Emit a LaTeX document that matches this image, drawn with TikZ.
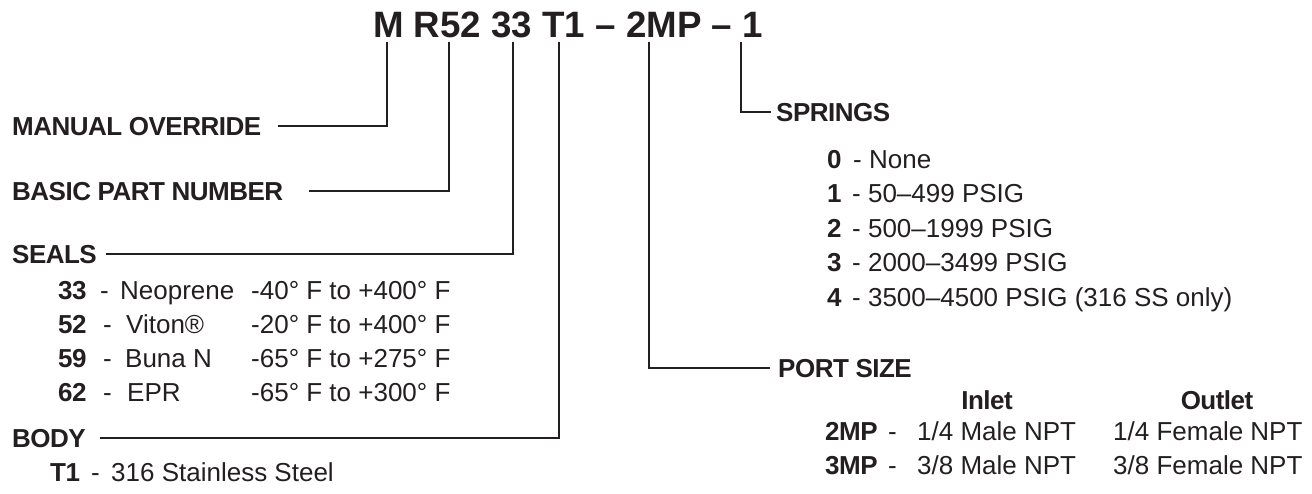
\documentclass[tikz,border=0pt]{standalone}
\usepackage{fontspec}
\setmainfont{Liberation Sans}
\newfontfamily\lblfont[LetterSpace=-2]{Liberation Sans}
\definecolor{ink}{HTML}{231F20}
\tikzset{
  lbl/.style={anchor=base west, inner sep=0pt, font=\lblfont\fontsize{26}{30}\selectfont\bfseries, text=ink},
  txt/.style={anchor=base west, inner sep=0pt, font=\fontsize{26}{30}\selectfont, text=ink},
  hdr/.style={anchor=base, inner sep=0pt, font=\lblfont\fontsize{26}{30}\selectfont\bfseries, text=ink},
  ttlstyle/.style={anchor=base west, inner sep=0pt, font=\fontsize{36.7}{40}\selectfont\bfseries, text=ink},
  lead/.style={draw=ink, line width=2pt},
}
\begin{document}
\begin{tikzpicture}[x=1pt,y=-1pt]
\useasboundingbox (0,0) rectangle (1312,493);
% title
\node[ttlstyle] (ttl) at (373,37) {M R52 33 T1 – 2MP – 1};
\coordinate (cM) at (387,42);
\coordinate (cR) at (449,42);
\coordinate (cS) at (513,42);
\coordinate (cT) at (559,42);
\coordinate (cP) at (649,42);
\coordinate (cN) at (741,42);
% labels
\node[lbl] (manual) at (12,135) {MANUAL OVERRIDE};
\node[lbl] (basic) at (12,200) {BASIC PART NUMBER};
\node[lbl] (seals) at (12,263) {SEALS};
\node[lbl] (body) at (12,447) {BODY};
\node[lbl] (springs) at (776,121) {SPRINGS};
\node[lbl] (port) at (778,377) {PORT SIZE};
% leaders
\draw[lead] (cM) |- ([xshift=17pt]manual.east);
\draw[lead] (cR) |- ([xshift=26pt]basic.east);
\draw[lead] (cS) |- ([xshift=9pt]seals.east);
\draw[lead] (cT) |- ([xshift=14pt]body.east);
\draw[lead] (cN) |- ([xshift=-5pt]springs.west);
\draw[lead] (cP) |- ([xshift=-8pt]port.west);
% seals
\node[lbl] (s1n) at (58,299) {33};
\node[txt] (s1d) at (100,299) {-};
\node[txt] (s1m) at (120,299) {Neoprene};
\node[txt] (s1t) at (251,299) {-40° F to +400° F};
\node[lbl] (s2n) at (58,333) {52};
\node[txt] (s2d) at (103,333) {-};
\node[txt] (s2m) at (126,333) {Viton®};
\node[txt] (s2t) at (251,333) {-20° F to +400° F};
\node[lbl] (s3n) at (58,367) {59};
\node[txt] (s3d) at (103,367) {-};
\node[txt] (s3m) at (125,367) {Buna N};
\node[txt] (s3t) at (251,367) {-65° F to +275° F};
\node[lbl] (s4n) at (58,401) {62};
\node[txt] (s4d) at (103,401) {-};
\node[txt] (s4m) at (127,401) {EPR};
\node[txt] (s4t) at (251,401) {-65° F to +300° F};
% body
\node[lbl] (b1n) at (50,481) {T1};
\node[txt] (b1d) at (91,481) {-};
\node[txt] (b1m) at (111,481) {316 Stainless Steel};
% springs
\node[lbl] (p0n) at (827,168) {0};
\node[txt] (p0t) at (853,168) {- None};
\node[lbl] (p1n) at (827,202) {1};
\node[txt] (p1t) at (852,202) {- 50–499 PSIG};
\node[lbl] (p2n) at (827,237) {2};
\node[txt] (p2t) at (852,237) {- 500–1999 PSIG};
\node[lbl] (p3n) at (827,271) {3};
\node[txt] (p3t) at (852,271) {- 2000–3499 PSIG};
\node[lbl] (p4n) at (827,306) {4};
\node[txt] (p4t) at (852,306) {- 3500–4500 PSIG (316 SS only)};
% port size
\node[hdr] (inlet) at (987,409) {Inlet};
\node[hdr] (outlet) at (1217,409) {Outlet};
\node[lbl] (r1n) at (825,440) {2MP};
\node[txt] (r1d) at (888,440) {-};
\node[txt] (r1i) at (917,440) {1/4 Male NPT};
\node[txt] (r1o) at (1113,440) {1/4 Female NPT};
\node[lbl] (r2n) at (825,474) {3MP};
\node[txt] (r2d) at (888,474) {-};
\node[txt] (r2i) at (917,474) {3/8 Male NPT};
\node[txt] (r2o) at (1113,474) {3/8 Female NPT};
\end{tikzpicture}
\end{document}
